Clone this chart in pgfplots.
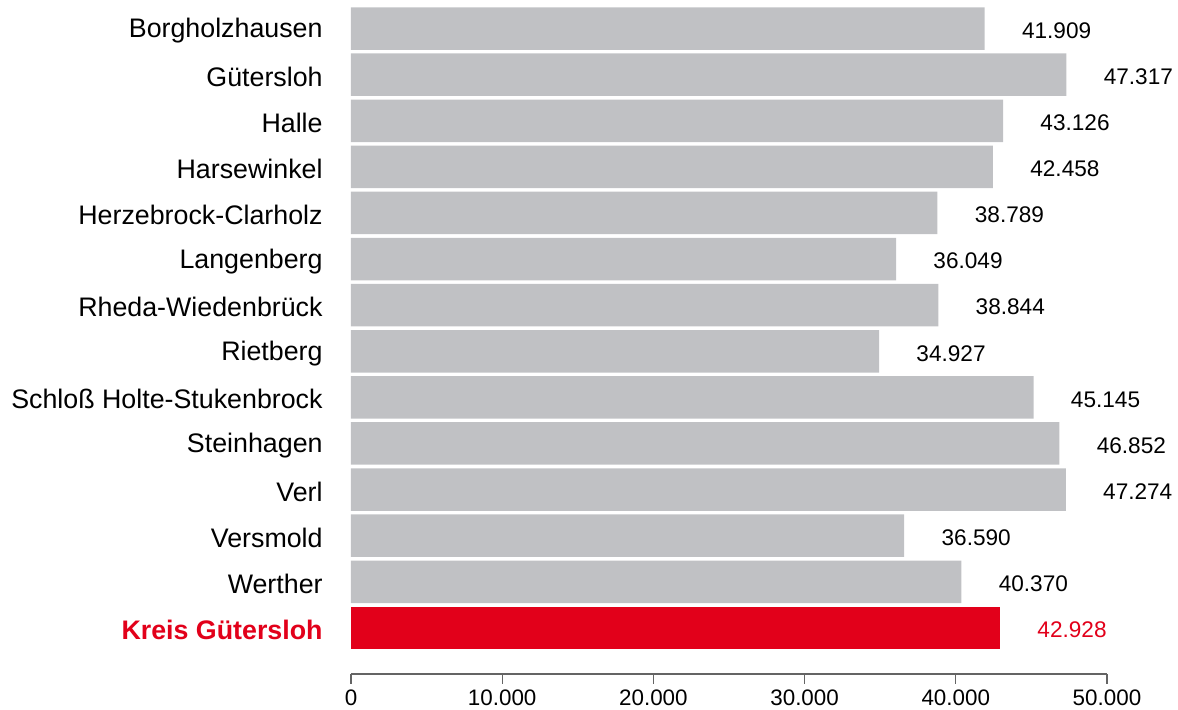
\documentclass[border=0pt]{standalone}
\usepackage{pgfplots}
\pgfplotsset{compat=1.18}
\usepackage{fontspec}
\setmainfont{Liberation Sans}
\definecolor{bargray}{RGB}{192,193,196}
\definecolor{kreisred}{RGB}{226,0,26}
\definecolor{axisgray}{RGB}{100,100,100}
\begin{document}
\begin{tikzpicture}
\begin{axis}[
  at={(0,0)}, anchor=south west,
  scale only axis, width=378pt, height=337pt,
  xmin=0, xmax=50000, ymin=-1, ymax=13.62,
  xbar, bar width=21.25pt, bar shift=0pt,
  clip=false,
  axis x line*=bottom, axis y line*=left,
  y axis line style={draw=none},
  x axis line style={axisgray, line width=0.6pt},
  xtick={0,10000,20000,30000,40000,50000},
  xtick style={axisgray, line width=0.6pt},
  tick align=outside, major tick length=5pt,
  scaled x ticks=false,
  /pgf/number format/.cd, 1000 sep={.}, assume math mode=true,
  /pgfplots/.cd,
  xticklabel style={font=\fontsize{11.2}{13}\selectfont, yshift=0.5pt},
  ytick={0,...,13},
  yticklabels={{\color{kreisred}\bfseries Kreis Gütersloh},Werther,Versmold,Verl,Steinhagen,Schloß Holte-Stukenbrock,Rietberg,Rheda-Wiedenbrück,Langenberg,Herzebrock-Clarholz,Harsewinkel,Halle,Gütersloh,Borgholzhausen},
  ytick style={draw=none},
  yticklabel style={font=\fontsize{13.4}{16}\selectfont, anchor=east, inner sep=0pt, xshift=-9pt, yshift=-1pt},
  nodes near coords,
  nodes near coords style={font=\fontsize{11.3}{13}\selectfont, anchor=west, inner sep=0pt, xshift=18.5pt, yshift=-1pt},
]
\addplot[fill=bargray, draw=none, nodes near coords style={text=black}] coordinates {
(41909,13) (47317,12) (43126,11) (42458,10) (38789,9) (36049,8) (38844,7)
(34927,6) (45145,5) (46852,4) (47274,3) (36590,2) (40370,1)};
\addplot[fill=kreisred, draw=none, nodes near coords style={text=kreisred}] coordinates {(42928,0)};
\end{axis}
\pgfresetboundingbox
\path[use as bounding box] (-175.5pt,-18pt) rectangle (413.5pt,337pt);
\end{tikzpicture}
\end{document}
